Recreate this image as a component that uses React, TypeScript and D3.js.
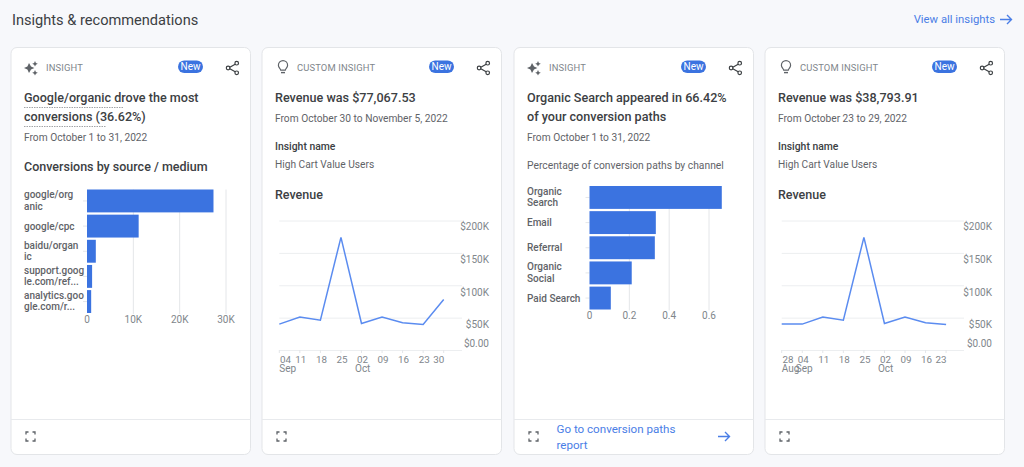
import React from 'react';
import * as d3 from 'd3';

const sourceNames = [['google/org', 'anic'], ['google/cpc'], ['baidu/organ', 'ic'], ['support.goog', 'le.com/ref...'], ['analytics.goo', 'gle.com/r...']];
const sourceValues = [27300, 11150, 1900, 1100, 900];
const sourceTicks = [0, 10000, 20000, 30000];
const sourceTickLabels = ['0', '10K', '20K', '30K'];

const channelNames = [['Organic', 'Search'], ['Email'], ['Referral'], ['Organic', 'Social'], ['Paid Search']];
const channelValues = [0.6642, 0.333, 0.328, 0.212, 0.107];
const channelTicks = [0, 0.2, 0.4, 0.6];
const channelTickLabels = ['0', '0.2', '0.4', '0.6'];

const revenueTicks = [0, 50000, 100000, 150000, 200000];
const revenueTickLabels = ['$0.00', '$50K', '$100K', '$150K', '$200K'];

const weeksA = ['04', '11', '18', '25', '02', '09', '16', '23', '30'];
const monthsA: (string | null)[] = ['Sep', null, null, null, 'Oct', null, null, null, null];
const revenueA = [40000, 51000, 46000, 174000, 41000, 51000, 42000, 39500, 78000];

const weeksB = ['28', '04', '11', '18', '25', '02', '09', '16', '23'];
const monthsB: (string | null)[] = ['Aug', 'Sep', null, null, null, 'Oct', null, null, null];
const revenueB = [40000, 40000, 51000, 46000, 174000, 41000, 51000, 42000, 39500];

const BLUE = '#3b73e0';
const LINE = '#5b8cf0';
const LINK = '#4a7ee6';
const DARK = '#3c4043';
const MID = '#5f6368';
const LIGHT = '#80868b';
const FONT = 'Roboto, sans-serif';

const Sparkle = ({ x, y }: { x: number; y: number }) => (
  <g transform={`translate(${x},${y})`} fill={MID}>
    <path d="M-2-5 L0-1.6 L3.4 0 L0 1.6 L-2 5 L-3.6 1.6 L-7 0 L-3.6-1.6 Z" />
    <path d="M4-7 L4.9-5.1 L6.8-4.2 L4.9-3.3 L4-1.4 L3.1-3.3 L1.2-4.2 L3.1-5.1 Z" />
    <path d="M4 2 L4.9 3.9 L6.8 4.8 L4.9 5.7 L4 7.6 L3.1 5.7 L1.2 4.8 L3.1 3.9 Z" />
  </g>
);

const Bulb = ({ x, y }: { x: number; y: number }) => (
  <g transform={`translate(${x},${y})`} fill="none" stroke={MID} strokeWidth={1.2}>
    <path d="M-2.3 3.2 C-2.5 1.6-4.6 0.8-4.6-1.8 A4.6 4.6 0 0 1 4.6-1.8 C4.6 0.8 2.5 1.6 2.3 3.2 Z" />
    <path d="M-2 5.6 H2" strokeWidth={1.4} />
  </g>
);

const Share = ({ x, y }: { x: number; y: number }) => (
  <g transform={`translate(${x},${y})`} stroke={DARK} strokeWidth={1.2} fill="none">
    <path d="M4-4.6 L-4 0 L4 4.6" />
    <circle cx={4.2} cy={-4.8} r={1.8} fill="#fff" />
    <circle cx={-4.4} cy={0} r={1.8} fill="#fff" />
    <circle cx={4.2} cy={4.8} r={1.8} fill="#fff" />
  </g>
);

const Expand = ({ x, y }: { x: number; y: number }) => (
  <path
    transform={`translate(${x},${y})`}
    d="M-4.5-2 V-4.5 H-2 M2-4.5 H4.5 V-2 M4.5 2 V4.5 H2 M-2 4.5 H-4.5 V2"
    fill="none"
    stroke={MID}
    strokeWidth={1.3}
  />
);

const Arrow = ({ x, y }: { x: number; y: number }) => (
  <path
    transform={`translate(${x},${y})`}
    d="M-6 0 H5.5 M1-4.5 L5.5 0 L1 4.5"
    fill="none"
    stroke={LINK}
    strokeWidth={1.4}
  />
);

type HeadProps = { x: number; kind: 'insight' | 'custom' };
const Card = ({ x, kind }: HeadProps) => (
  <g>
    <rect x={x} y={47.5} width={239.5} height={407} rx={6} fill="#fff" stroke="#e3e5e8" />
    <line x1={x} x2={x + 239.5} y1={419.5} y2={419.5} stroke="#e8eaed" />
    {kind === 'insight' ? <Sparkle x={x + 20} y={68} /> : <Bulb x={x + 21} y={67} />}
    <text x={x + 35} y={71.3} fontSize={9.4} letterSpacing={0.15} fill={LIGHT}>
      {kind === 'insight' ? 'INSIGHT' : 'CUSTOM INSIGHT'}
    </text>
    <rect x={x + 167} y={60.5} width={25} height={12.5} rx={6.25} fill={BLUE} />
    <text x={x + 179.5} y={70.4} fontSize={10} fill="#fff" textAnchor="middle">New</text>
    <Share x={x + 221.5} y={68} />
    <Expand x={x + 19.5} y={436.5} />
  </g>
);

type BarProps = {
  names: string[][];
  values: number[];
  ticks: number[];
  tickLabels: string[];
  labelX: number;
  x0: number;
  x1: number;
  domainMax: number;
  top: number;
  bottom: number;
  labelSize: number;
};

const BarPanel = ({ names, values, ticks, tickLabels, labelX, x0, x1, domainMax, top, bottom, labelSize }: BarProps) => {
  const x = d3.scaleLinear().domain([0, domainMax]).range([x0, x1]);
  const y = d3.scaleBand<number>().domain(d3.range(values.length)).range([top, bottom]).paddingInner(0.09).paddingOuter(0);
  return (
    <g>
      {ticks.map((t, i) => (
        <g key={t}>
          {i > 0 && <line x1={x(t)} x2={x(t)} y1={top} y2={bottom + 1} stroke="#e4e6e9" />}
          <text x={x(t)} y={bottom + 9.5} fontSize={10} fill={LIGHT} textAnchor="middle">{tickLabels[i]}</text>
        </g>
      ))}
      {values.map((v, i) => {
        const by = y(i) as number;
        const mid = by + y.bandwidth() / 2;
        const lines = names[i];
        return (
          <g key={i}>
            <line x1={x0 - 4} x2={x0} y1={mid} y2={mid} stroke="#e4e6e9" />
            <rect x={x0} y={by} width={x(v) - x0} height={y.bandwidth()} fill={BLUE} />
            {lines.map((l, j) => (
              <text key={l} x={labelX} y={mid + 3.5 + (lines.length === 2 ? (j === 0 ? -6 : 5.3) : 0)} fontSize={labelSize} fontWeight={500} fill={MID}>{l}</text>
            ))}
          </g>
        );
      })}
    </g>
  );
};

type LineProps = {
  weeks: string[];
  months: (string | null)[];
  values: number[];
  x0: number;
  labelRight: number;
  gridRight: number;
};

const RevenuePanel = ({ weeks, months, values, x0, labelRight, gridRight }: LineProps) => {
  const x = d3.scaleLinear().domain([0, weeks.length - 1]).range([x0, x0 + 164.4]);
  const y = d3.scaleLinear().domain([0, 200000]).range([350, 220.5]);
  const path = d3.line<number>().x((_, i) => x(i)).y((d) => y(d))(values) as string;
  const labelOffset = [-6.5, 7, 7, 7, 6.5];
  return (
    <g>
      {revenueTicks.map((t, i) => (
        <g key={t}>
          <line x1={x0} x2={gridRight} y1={y(t) + 0.5} y2={y(t) + 0.5} stroke="#eceef0" />
          <text x={labelRight} y={y(t) + labelOffset[i] + 3.4} fontSize={10} fill={LIGHT} textAnchor="end">{revenueTickLabels[i]}</text>
        </g>
      ))}
      {weeks.map((w, i) => {
        const last = i === weeks.length - 1;
        const lx = i === 0 ? x(i) + 0.7 : x(i) + (last ? 0.5 : 1);
        const anchor = i === 0 ? 'start' : last ? 'end' : 'middle';
        return (
          <g key={i}>
            <line x1={x(i)} x2={x(i)} y1={350} y2={353} stroke="#e4e6e9" />
            <text x={lx} y={362.5} fontSize={9.8} fill={LIGHT} textAnchor={anchor}>{w}</text>
            {months[i] && (
              <text x={i === 0 ? x(i) : x(i) - 6.5} y={372} fontSize={10} fill={LIGHT}>{months[i]}</text>
            )}
          </g>
        );
      })}
      <path d={path} fill="none" stroke={LINE} strokeWidth={1.5} />
    </g>
  );
};

const T = ({ x, y, size, weight, fill, children }: any) => (
  <text x={x} y={y} fontSize={size} fontWeight={weight} fill={fill}>{children}</text>
);

export default function App() {
  return (
    <svg
      width={1024}
      height={467}
      viewBox="0 0 1024 467"
      style={{ position: 'fixed', left: 0, top: 0, display: 'block' }}
      fontFamily={FONT}
    >
      <rect width={1024} height={467} fill="#f7f8fb" />
      <T x={12} y={25} size={14.6} fill={DARK}>Insights &amp; recommendations</T>
      <text x={995} y={23} fontSize={11.3} textAnchor="end" fill={LINK}>View all insights</text>
      <Arrow x={1006} y={19.5} />

      <Card x={11} kind="insight" />
      <T x={24} y={102} size={12.6} weight={500} fill={DARK}>Google/organic drove the most</T>
      <T x={24} y={121} size={12.6} weight={500} fill={DARK}>conversions (36.62%)</T>
      <path d="M24 107.5 H124 M24 126.5 H106" stroke="#8a8d91" strokeWidth={0.8} strokeDasharray="1.5 1" />
      <T x={24} y={141} size={10.2} fill={MID}>From October 1 to 31, 2022</T>
      <T x={24} y={171} size={12.5} weight={500} fill={DARK}>Conversions by source / medium</T>
      <BarPanel names={sourceNames} values={sourceValues} ticks={sourceTicks} tickLabels={sourceTickLabels} labelX={24} x0={87} x1={226} domainMax={30000} top={189.5} bottom={313} labelSize={10} />

      <Card x={262} kind="custom" />
      <T x={275} y={102} size={12.6} weight={500} fill={DARK}>Revenue was $77,067.53</T>
      <T x={275} y={122} size={10.2} fill={MID}>From October 30 to November 5, 2022</T>
      <T x={275} y={149.5} size={10.4} weight={500} fill={DARK}>Insight name</T>
      <T x={275} y={168} size={10.2} fill={MID}>High Cart Value Users</T>
      <T x={275} y={198.5} size={12.5} weight={500} fill={DARK}>Revenue</T>
      <RevenuePanel weeks={weeksA} months={monthsA} values={revenueA} x0={279.3} labelRight={489} gridRight={462} />

      <Card x={514} kind="insight" />
      <T x={527} y={102} size={12.6} weight={500} fill={DARK}>Organic Search appeared in 66.42%</T>
      <T x={527} y={121} size={12.6} weight={500} fill={DARK}>of your conversion paths</T>
      <T x={527} y={141} size={10.2} fill={MID}>From October 1 to 31, 2022</T>
      <T x={527} y={168.5} size={10.3} fill={MID}>Percentage of conversion paths by channel</T>
      <BarPanel names={channelNames} values={channelValues} ticks={channelTicks} tickLabels={channelTickLabels} labelX={527} x0={589.5} x1={709} domainMax={0.6} top={186} bottom={309.5} labelSize={10} />
      <T x={556.5} y={432.5} size={11.6} fill={LINK}>Go to conversion paths</T>
      <T x={556.5} y={449} size={11.6} fill={LINK}>report</T>
      <Arrow x={724} y={436.5} />

      <Card x={765} kind="custom" />
      <T x={778} y={102} size={12.6} weight={500} fill={DARK}>Revenue was $38,793.91</T>
      <T x={778} y={122} size={10.2} fill={MID}>From October 23 to 29, 2022</T>
      <T x={778} y={149.5} size={10.4} weight={500} fill={DARK}>Insight name</T>
      <T x={778} y={168} size={10.2} fill={MID}>High Cart Value Users</T>
      <T x={778} y={198.5} size={12.5} weight={500} fill={DARK}>Revenue</T>
      <RevenuePanel weeks={weeksB} months={monthsB} values={revenueB} x0={781.7} labelRight={992} gridRight={964} />
    </svg>
  );
}
